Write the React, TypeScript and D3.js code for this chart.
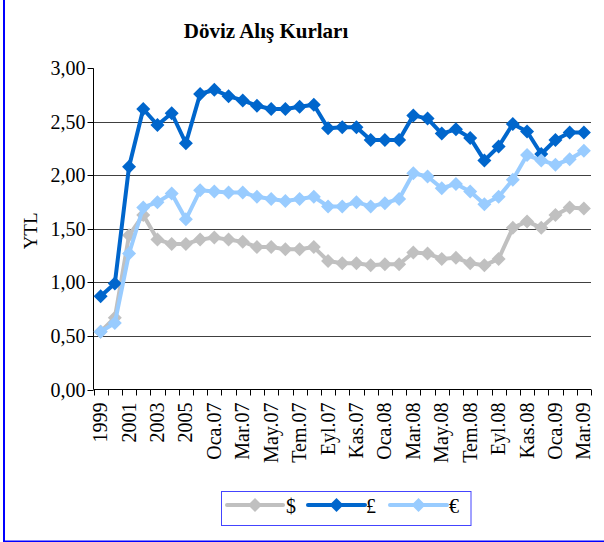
import React from "react";
import * as d3 from "d3";

const categories = [
  "1999", "2000", "2001", "2002", "2003", "2004", "2005", "2006",
  "Oca.07", "Şub.07", "Mar.07", "Nis.07", "May.07", "Haz.07", "Tem.07", "Ağu.07",
  "Eyl.07", "Eki.07", "Kas.07", "Ara.07",
  "Oca.08", "Şub.08", "Mar.08", "Nis.08", "May.08", "Haz.08", "Tem.08", "Ağu.08",
  "Eyl.08", "Eki.08", "Kas.08", "Ara.08",
  "Oca.09", "Şub.09", "Mar.09",
];

const usd = [
  0.54, 0.67, 1.44, 1.63, 1.40, 1.36, 1.36, 1.40,
  1.42, 1.40, 1.38, 1.33, 1.33, 1.31, 1.31, 1.33,
  1.20, 1.18, 1.18, 1.16,
  1.17, 1.17, 1.28, 1.27, 1.22, 1.23, 1.18, 1.16,
  1.22, 1.51, 1.57, 1.51,
  1.63, 1.70, 1.69,
];

const gbp = [
  0.87, 0.99, 2.08, 2.62, 2.47, 2.58, 2.30, 2.76,
  2.80, 2.74, 2.70, 2.65, 2.62, 2.62, 2.64, 2.66,
  2.44, 2.45, 2.45, 2.33,
  2.33, 2.33, 2.56, 2.53, 2.39, 2.43, 2.35, 2.14,
  2.27, 2.48, 2.41, 2.20,
  2.33, 2.40, 2.40,
];

const eur = [
  0.54, 0.62, 1.27, 1.70, 1.75, 1.83, 1.59, 1.86,
  1.85, 1.84, 1.84, 1.80, 1.78, 1.76, 1.78, 1.80,
  1.71, 1.71, 1.75, 1.71,
  1.74, 1.78, 2.02, 1.99, 1.88, 1.92, 1.85, 1.73,
  1.80, 1.96, 2.19, 2.14,
  2.10, 2.15, 2.23,
];

const yTicks = [0, 0.5, 1, 1.5, 2, 2.5, 3];

const seriesList = [
  { name: "$", values: usd, color: "#C0C0C0" },
  { name: "£", values: gbp, color: "#0066CC" },
  { name: "€", values: eur, color: "#99CCFF" },
];

const W = 604;
const H = 542;
const left = 93.5;
const right = 591;
const top = 68.3;
const bottom = 389.5;

const fmt = (v: number) => v.toFixed(2).replace(".", ",");

function diamond(cx: number, cy: number, r: number) {
  return `M${cx},${cy - r}L${cx + r},${cy}L${cx},${cy + r}L${cx - r},${cy}Z`;
}

const FONT = "Liberation Serif, Times New Roman, serif";

export default function App() {
  const x = d3.scaleBand<string>().domain(categories).range([left, right]).padding(0);
  const y = d3.scaleLinear().domain([0, 3]).range([bottom, top]);
  const cx = (c: string) => (x(c) as number) + x.bandwidth() / 2;

  const line = (vals: number[]) =>
    d3
      .line<number>()
      .x((_, i) => cx(categories[i]))
      .y((v) => y(v))(vals) as string;

  const boundaries = d3.range(categories.length + 1).map((i) => left + i * x.bandwidth());

  const legendItems = [
    { x0: 227, x1: 283, tx: 286 },
    { x0: 308, x1: 365, tx: 366 },
    { x0: 390, x1: 447, tx: 449 },
  ];

  return (
    <svg
      width={W}
      height={H}
      style={{ position: "absolute", left: 0, top: 0, background: "#fff" }}
    >
      <rect x={0} y={0} width={W} height={H} fill="#fff" />
      <rect x={4} y={-5} width={W + 10} height={H + 4.5} fill="none" stroke="#0000FF" strokeWidth={2} />

      <text x={266} y={38} textAnchor="middle" fontSize={21} fontWeight="bold" fill="#000" fontFamily={FONT}>
        Döviz Alış Kurları
      </text>

      {yTicks
        .filter((t) => t > 0 && t < 3)
        .map((t) => (
          <line key={"g" + t} x1={left} x2={right} y1={Math.round(y(t)) + 0.5} y2={Math.round(y(t)) + 0.5} stroke="#404040" strokeWidth={1} />
        ))}

      <line x1={left} x2={left} y1={top} y2={bottom} stroke="#000" strokeWidth={1} />
      {yTicks.map((t) => (
        <g key={"yt" + t}>
          <line x1={left - 6} x2={left} y1={Math.round(y(t)) + 0.5} y2={Math.round(y(t)) + 0.5} stroke="#000" />
          <text x={left - 8} y={y(t)} dy="0.35em" textAnchor="end" fontSize={20} fill="#000" fontFamily={FONT}>
            {fmt(t)}
          </text>
        </g>
      ))}

      <text transform={`translate(37,${(top + bottom) / 2 + 2}) rotate(-90)`} textAnchor="middle" fontSize={19} fill="#000" fontFamily={FONT}>
        YTL
      </text>

      <line x1={left} x2={right} y1={bottom} y2={bottom} stroke="#000" strokeWidth={1} />
      {boundaries.map((bx, i) => (
        <line key={"xt" + i} x1={Math.round(bx) + 0.5} x2={Math.round(bx) + 0.5} y1={bottom} y2={bottom + 6} stroke="#000" />
      ))}
      {categories.map((c, i) =>
        i % 2 === 0 ? (
          <text
            key={"xl" + c}
            transform={`translate(${cx(c) + 6.5},${bottom + 13}) rotate(-90)`}
            textAnchor="end"
            fontSize={20}
            fill="#000"
            fontFamily={FONT}
          >
            {c}
          </text>
        ) : null
      )}

      {seriesList.map((s) => (
        <g key={s.name}>
          <path d={line(s.values)} fill="none" stroke={s.color} strokeWidth={4} strokeLinejoin="round" />
          {s.values.map((v, i) => (
            <path key={i} d={diamond(cx(categories[i]), y(v), 7)} fill={s.color} />
          ))}
        </g>
      ))}

      <rect x={221.5} y={491.5} width={249.5} height={34} fill="#fff" stroke="#4444FF" strokeWidth={1} />
      {seriesList.map((s, i) => {
        const it = legendItems[i];
        return (
          <g key={"lg" + s.name}>
            <line x1={it.x0} x2={it.x1} y1={505} y2={505} stroke={s.color} strokeWidth={4} strokeLinecap="round" />
            <path d={diamond((it.x0 + it.x1) / 2, 505, 7)} fill={s.color} />
            <text x={it.tx} y={506} dy="0.35em" fontSize={20} fill="#000" fontFamily={FONT}>
              {s.name}
            </text>
          </g>
        );
      })}
    </svg>
  );
}
